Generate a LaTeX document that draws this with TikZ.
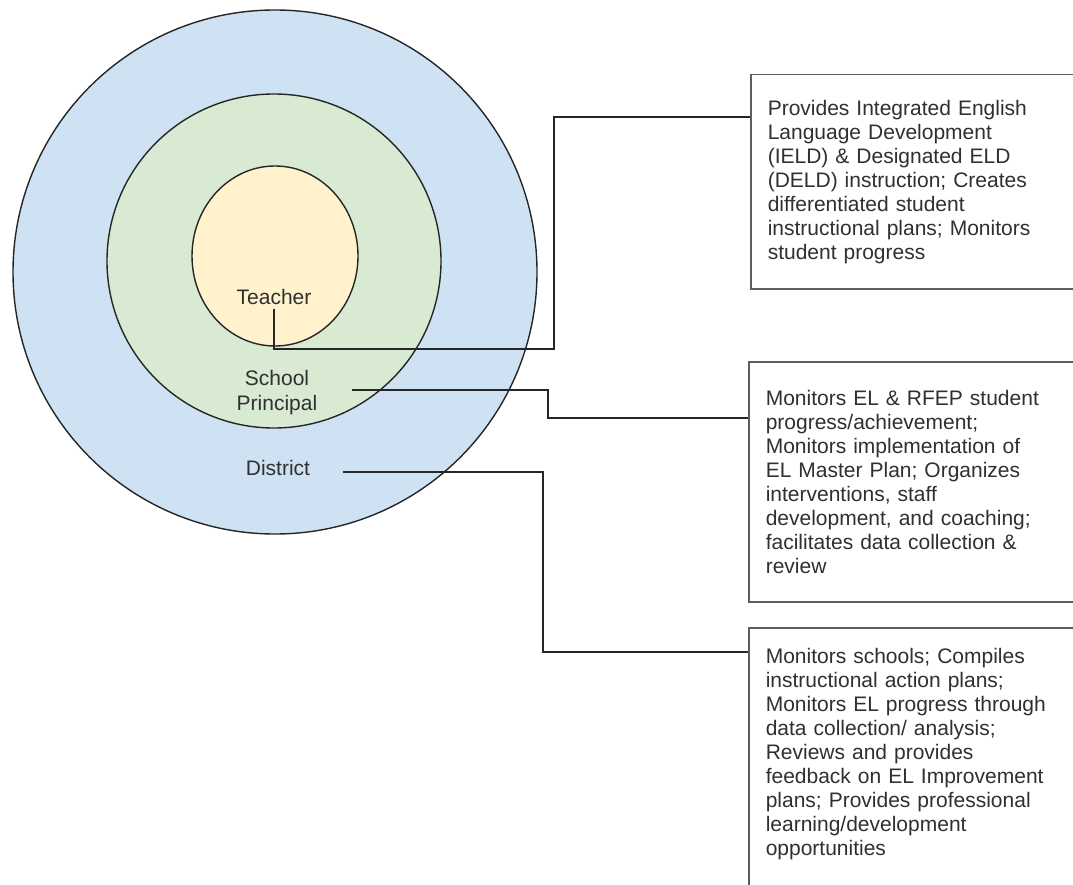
\documentclass[tikz,border=0pt]{standalone}
\usepackage{fontspec}
\setmainfont{Liberation Sans}
\definecolor{outerc}{HTML}{CFE2F3}
\definecolor{midc}{HTML}{D9EAD3}
\definecolor{innc}{HTML}{FFF2CC}
\definecolor{ringc}{HTML}{262626}
\definecolor{txtc}{HTML}{303030}
\definecolor{boxc}{HTML}{5E5E5E}
\definecolor{linkc}{HTML}{262626}
\begin{document}
\begin{tikzpicture}[x=1pt,y=-1pt,
  ring/.style={draw=ringc, line width=1.4pt},
  lbl/.style={text=txtc, font=\fontsize{21}{25}\selectfont, align=center, inner sep=4pt},
  infobox/.style={draw=boxc, line width=1.5pt, anchor=north west, text width=300pt,
    align=left, inner xsep=17pt, inner ysep=0pt, text=txtc,
    font=\fontsize{21}{24}\selectfont},
  link/.style={draw=linkc, line width=1.3pt}]
\useasboundingbox (0,0) rectangle (1073,885);
\clip (0,0) rectangle (1073,885);
\fill[white] (0,0) rectangle (1073,885);
% rings
\path[ring, fill=outerc] (275,272) circle[radius=262pt];
\path[ring, fill=midc] (274,261) circle[radius=167pt];
\path[ring, fill=innc] (275,256) ellipse[x radius=83pt, y radius=90pt];
% labels
\node[lbl] (teacher) at (274,297) {Teacher};
\node[lbl] (principal) at (277,393) {School\\Principal};
\node[lbl] (district) at (278,468) {District};
% boxes
\node[infobox, minimum height=214pt] (b1) at (750,74) {Provides Integrated English\\Language Development\\(IELD) \& Designated ELD\\(DELD) instruction; Creates\\differentiated student\\instructional plans; Monitors\\student progress};
\node[infobox, minimum height=240pt] (b2) at (748,361) {Monitors EL \& RFEP student\\progress/achievement;\\Monitors implementation of\\EL Master Plan; Organizes\\interventions, staff\\development, and coaching;\\facilitates data collection \&\\review};
\node[infobox, inner ysep=21pt] (b3) at (748,627) {Monitors schools; Compiles\\instructional action plans;\\Monitors EL progress through\\data collection/ analysis;\\Reviews and provides\\feedback on EL Improvement\\plans; Provides professional\\learning/development\\opportunities\rule[-40pt]{0pt}{1pt}};
% connectors
\coordinate (k1) at (554,349);
\coordinate (y1) at (0,117);
\coordinate (s2) at (352,390);
\coordinate (k2) at (548,418);
\coordinate (s3) at (343,472);
\coordinate (k3) at (543,652);
\draw[link] (teacher.south) |- (k1) |- (b1.west |- y1);
\draw[link] (s2) -| (k2) -- (b2.west |- k2);
\draw[link] (s3) -| (k3) -- (b3.west |- k3);
\end{tikzpicture}
\end{document}
